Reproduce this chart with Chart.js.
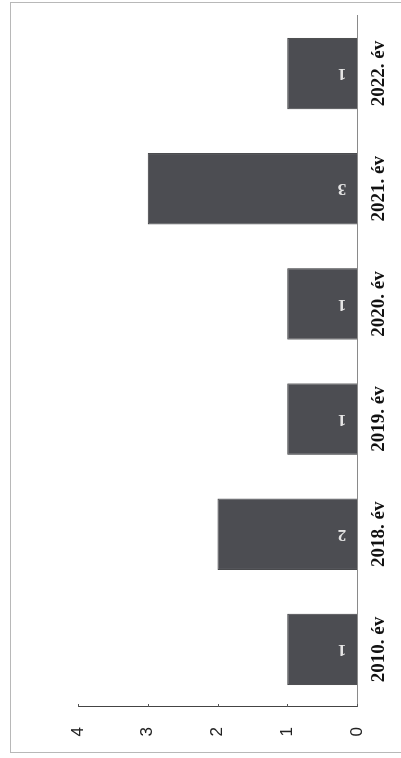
<!DOCTYPE html>
<html>
<head>
<meta charset="utf-8">
<script src="https://cdn.jsdelivr.net/npm/chart.js@4/dist/chart.umd.min.js"></script>
<style>
  body { margin: 0; background: #fff; overflow: hidden; }
  #frame {
    position: absolute; left: 10px; top: 2px; width: 400px; height: 749px;
    border: 1px solid #b8b8b8;
  }
  /* the scanned page is turned a quarter turn, so the chart is drawn upright and rotated */
  #wrap {
    position: absolute; left: 0; top: 0; width: 758px; height: 401px;
    transform-origin: 0 0;
    transform: translate(0, 758px) rotate(-90deg);
  }
</style>
</head>
<body>
<div id="frame"></div>
<div id="wrap"><canvas id="chart" width="758" height="401"></canvas></div>
<script>
const years = ['2010. év', '2018. év', '2019. év', '2020. év', '2021. év', '2022. év'];
const counts = [1, 2, 1, 1, 3, 1];
const valueTicks = [0, 1, 2, 3, 4];

// value written inside each bar, near its base
const barLabels = {
  id: 'barLabels',
  afterDatasetsDraw(chart) {
    const ctx = chart.ctx;
    const meta = chart.getDatasetMeta(0);
    ctx.save();
    ctx.font = 'bold 17px "Liberation Serif"';
    ctx.fillStyle = '#e4e4e4';
    ctx.textAlign = 'center';
    ctx.textBaseline = 'middle';
    meta.data.forEach((bar, i) => {
      ctx.save();
      ctx.translate(bar.x, bar.base - 15);
      ctx.rotate(-Math.PI / 2);
      ctx.fillText(String(counts[i]), 0, 0);
      ctx.restore();
    });
    ctx.restore();
  }
};

// short tick marks on the inner side of the value axis
const innerTicks = {
  id: 'innerTicks',
  afterDraw(chart) {
    const ctx = chart.ctx;
    const y = chart.scales.y;
    ctx.save();
    ctx.strokeStyle = '#555';
    ctx.lineWidth = 1;
    valueTicks.forEach((v) => {
      const py = Math.round(y.getPixelForValue(v)) + 0.5;
      ctx.beginPath();
      ctx.moveTo(y.right, py);
      ctx.lineTo(y.right + 3, py);
      ctx.stroke();
    });
    ctx.restore();
  }
};

new Chart(document.getElementById('chart').getContext('2d'), {
  type: 'bar',
  data: {
    labels: years,
    datasets: [
      {
        data: counts,
        backgroundColor: '#4c4d52',
        borderColor: '#38393c',
        borderWidth: 1,
        barPercentage: 0.62,
        categoryPercentage: 1,
      },
    ],
  },
  options: {
    responsive: false,
    animation: false,
    layout: { padding: { left: 0, right: 16, top: 78, bottom: 0 } },
    scales: {
      x: {
        grid: { display: false },
        border: { display: true, color: '#8a8a8a', width: 1 },
        ticks: {
          padding: 3,
          color: '#111',
          font: { family: '"Liberation Serif"', size: 19, weight: 'bold' },
          maxRotation: 0,
        },
        afterFit: (scale) => { scale.height = 44; },
      },
      y: {
        min: 0,
        max: 4,
        grid: { display: false },
        border: { display: true, color: '#444', width: 1 },
        afterBuildTicks: (scale) => { scale.ticks = valueTicks.map((v) => ({ value: v })); },
        ticks: {
          padding: 12,
          color: '#222',
          font: { family: '"Liberation Sans"', size: 17 },
        },
        afterFit: (scale) => { scale.width = 51; },
      },
    },
    plugins: {
      legend: { display: false },
      tooltip: { enabled: false },
    },
  },
  plugins: [barLabels, innerTicks],
});
</script>
</body>
</html>
